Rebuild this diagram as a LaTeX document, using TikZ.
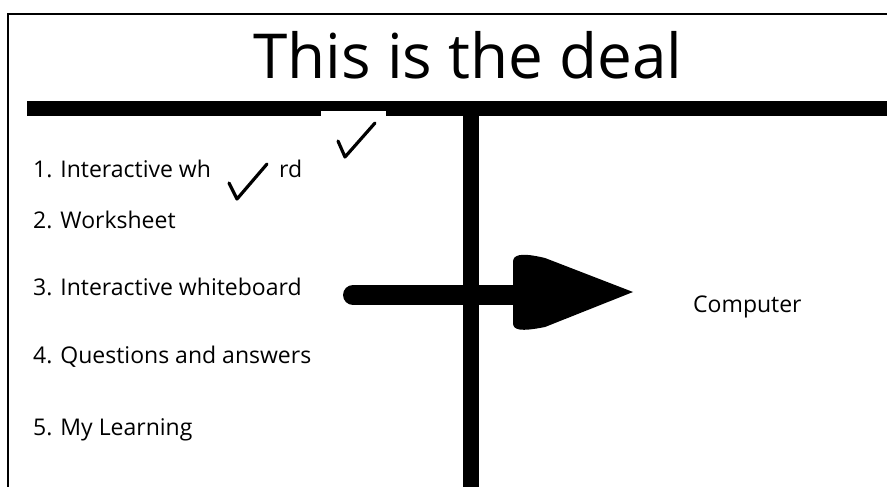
\documentclass[tikz,border=0pt]{standalone}
\usepackage{fontspec}
\setmainfont{Open Sans}
\usetikzlibrary{positioning}

\begin{document}
\begin{tikzpicture}[
    x=1pt, y=-1pt,
    item/.style={anchor=base west, inner sep=0pt, font=\fontsize{23}{26}\selectfont},
    bar/.style={fill=black, draw=none},
    tick/.style={line width=3.2pt, line cap=round, line join=round}
]
\useasboundingbox (0,0) rectangle (887,487);

% frame
\draw[line width=1.5pt] (8,487) -- (8,14) -- (890,14);

% title
\node[font=\fontsize{62}{70}\selectfont, inner sep=0pt, anchor=base] (title) at (468,78) {This is the deal};

% T-chart bars
\fill[bar] (27,101) rectangle (887,116);
\fill[white] (321,111) rectangle (386,117);
\fill[bar] (463,101) rectangle (479,487);

% items
\node[item] (i1a) at (33,177) {1. Interactive wh};
\node[item] (i1b) at (279,177) {rd};
\node[item] (i2) at (33,228) {2. Worksheet};
\node[item] (i3) at (33,295) {3. Interactive whiteboard};
\node[item] (i4) at (33,363) {4. Questions and answers};
\node[item] (i5) at (33,435) {5. My Learning};
\node[item] (comp) at (693,312) {Computer};

% ticks
\draw[tick] (229,183) -- (237,199) -- (267,164);
\draw[tick] (338,141) -- (345,157) -- (375,123);

% arrow
\coordinate (tail) at (343,295);
\coordinate (tip) at (633,292);
\draw[line width=20pt, line cap=round] (tail) ++(10,0) -- (520,295);
\fill (tip) -- (545,258) .. controls (520,252) and (513,255) .. (513,262)
    -- (513,323) .. controls (513,330) and (520,332) .. (545,327) -- cycle;
\end{tikzpicture}
\end{document}
